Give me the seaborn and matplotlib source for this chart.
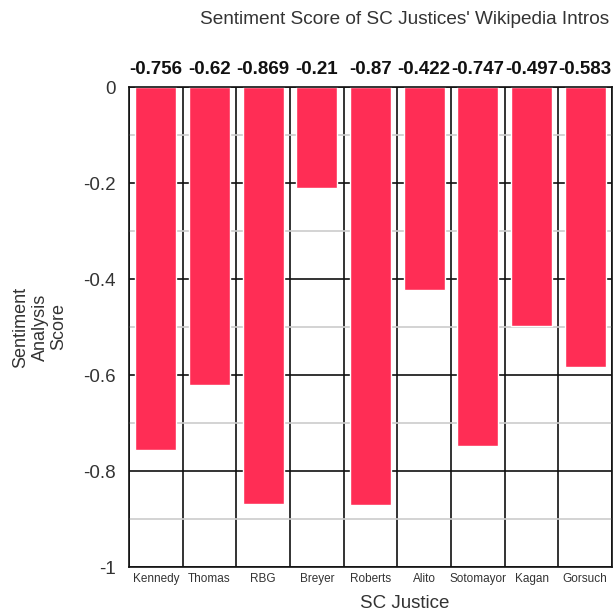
import numpy as np
import pandas as pd
import matplotlib
matplotlib.use('Agg')
import matplotlib.pyplot as plt
import seaborn as sns
from matplotlib.ticker import FixedLocator

# veriler
justices = ['Kennedy', 'Thomas', 'RBG', 'Breyer', 'Roberts',
            'Alito', 'Sotomayor', 'Kagan', 'Gorsuch']
scores = [-0.756, -0.62, -0.869, -0.21, -0.87, -0.422, -0.747, -0.497, -0.583]
score_labels = ['-0.756', '-0.62', '-0.869', '-0.21', '-0.87',
                '-0.422', '-0.747', '-0.497', '-0.583']
y_major = [0, -0.2, -0.4, -0.6, -0.8, -1]
y_major_labels = ['0', '-0.2', '-0.4', '-0.6', '-0.8', '-1']
y_minor = [-0.1, -0.3, -0.5, -0.7, -0.9]

df = pd.DataFrame({'Justice': justices, 'Score': scores})

sns.set_style('white')
plt.rcParams['font.family'] = ['Liberation Sans', 'DejaVu Sans']

fig = plt.figure(figsize=(6.13, 6.14), dpi=100)
ax = fig.add_axes([129 / 613, 47 / 614, 483 / 613, 480 / 614])

sns.barplot(data=df, x='Justice', y='Score', color='#ff2d55',
            saturation=1, width=0.77, ax=ax)

ax.set_xlim(-0.5, len(justices) - 0.5)
ax.set_ylim(-1, 0)
ax.set_axisbelow(True)

# y ekseni: ana ve ara cizgiler
ax.yaxis.set_major_locator(FixedLocator(y_major))
ax.set_yticklabels(y_major_labels, fontsize=13.5, color='#333333')
ax.yaxis.set_minor_locator(FixedLocator(y_minor))
ax.tick_params(axis='y', which='major', length=5.5, width=1.2, color='#111111', pad=4)
ax.tick_params(axis='y', which='minor', length=4, width=1.2, color='#cccccc')
ax.grid(axis='y', which='major', color='#111111', linewidth=1.2)
ax.grid(axis='y', which='minor', color='#cccccc', linewidth=1.2)

# x ekseni: kategori sinirlari
ax.xaxis.set_minor_locator(FixedLocator(np.arange(-0.5, len(justices), 1.0)))
ax.set_xticks(range(len(justices)))
ax.set_xticklabels(justices, fontsize=8.5, color='#333333')
ax.tick_params(axis='x', which='major', length=0, pad=4)
ax.tick_params(axis='x', which='minor', length=5, width=1.2, color='#111111')
ax.grid(axis='x', which='minor', color='#111111', linewidth=1.2)

for s in ax.spines.values():
    s.set_color('#111111')
    s.set_linewidth(1.2)

# ust degerler
for i, lab in enumerate(score_labels):
    ax.text(i, 0.036, lab, ha='center', va='center', fontsize=13.5,
            fontweight='bold', color='#111111', clip_on=False)

ax.set_xlabel('')
ax.set_ylabel('')
fig.text(405 / 613, 1 - 604 / 614, 'SC Justice', ha='center', va='center',
         fontsize=13.5, color='#333333')
fig.text(40 / 613, 1 - 327 / 614, 'Sentiment\nAnalysis\nScore', ha='center',
         va='center', rotation=90, fontsize=13, color='#333333', linespacing=1.15)
fig.text(405 / 613, 1 - 20 / 614, "Sentiment Score of SC Justices' Wikipedia Intros",
         ha='center', va='center', fontsize=13.7, color='#333333')

fig.savefig('out.png', dpi=100)
